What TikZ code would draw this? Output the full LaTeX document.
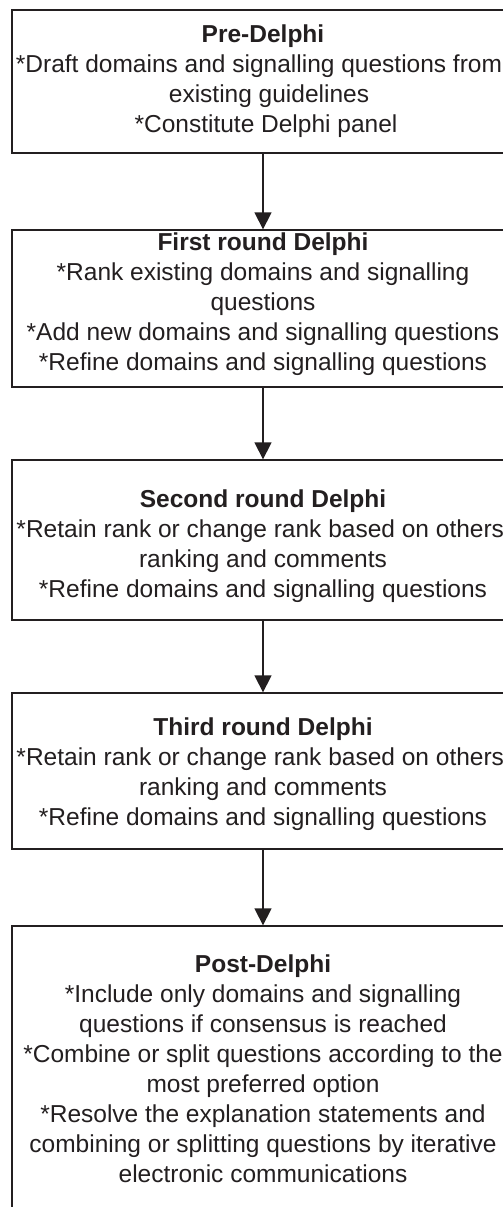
\documentclass[tikz,border=0pt]{standalone}
\usepackage{fontspec}
\setmainfont{Liberation Sans}
\usetikzlibrary{arrows.meta}
\definecolor{ink}{RGB}{35,31,32}
\tikzset{
  stagebox/.style={draw=ink, line width=1.3pt, minimum width=502pt, inner sep=0pt, fill=white},
  stagetext/.style={anchor=north, align=center, inner sep=0pt, text=ink,
    font=\fontsize{24.5}{30}\selectfont},
  flow/.style={draw=ink, line width=1.3pt, -{Triangle[width=17pt,length=17pt]}}
}
\begin{document}
\begin{tikzpicture}[x=1pt,y=-1pt]
\useasboundingbox (0,0) rectangle (503,1207);
\clip (0,0) rectangle (503,1207);
\fill[white] (0,0) rectangle (503,1207);
\node[stagebox, minimum height=143pt] (b1) at (263,81.5) {};
\node[stagebox, minimum height=157pt] (b2) at (263,308.5) {};
\node[stagebox, minimum height=160pt] (b3) at (263,540) {};
\node[stagebox, minimum height=156pt] (b4) at (263,771) {};
\node[stagebox, minimum height=294pt] (b5) at (263,1073) {};
\node[stagetext] (t1) at (263,25) {\textbf{Pre-Delphi}\\\hspace*{-8pt}*Draft domains and signalling questions from\\\hspace*{12pt}existing guidelines\\\hspace*{6pt}*Constitute Delphi panel};
\node[stagetext] (t2) at (263,233) {\textbf{First round Delphi}\\*Rank existing domains and signalling\\questions\\*Add new domains and signalling questions\\*Refine domains and signalling questions};
\node[stagetext] (t3) at (263,490) {\textbf{Second round Delphi}\\*Retain rank or change rank based on others'\\ranking and comments\\*Refine domains and signalling questions};
\node[stagetext] (t4) at (263,718) {\textbf{Third round Delphi}\\*Retain rank or change rank based on others'\\ranking and comments\\*Refine domains and signalling questions};
\node[stagetext] (t5) at (263,955) {\textbf{Post-Delphi}\\*Include only domains and signalling\\questions if consensus is reached\\*Combine or split questions according to the\\most preferred option\\*Resolve the explanation statements and\\combining or splitting questions by iterative\\electronic communications};
\draw[flow] (b1.south) -- (b2.north);
\draw[flow] (b2.south) -- (b3.north);
\draw[flow] (b3.south) -- (b4.north);
\draw[flow] (b4.south) -- (b5.north);
\end{tikzpicture}
\end{document}
